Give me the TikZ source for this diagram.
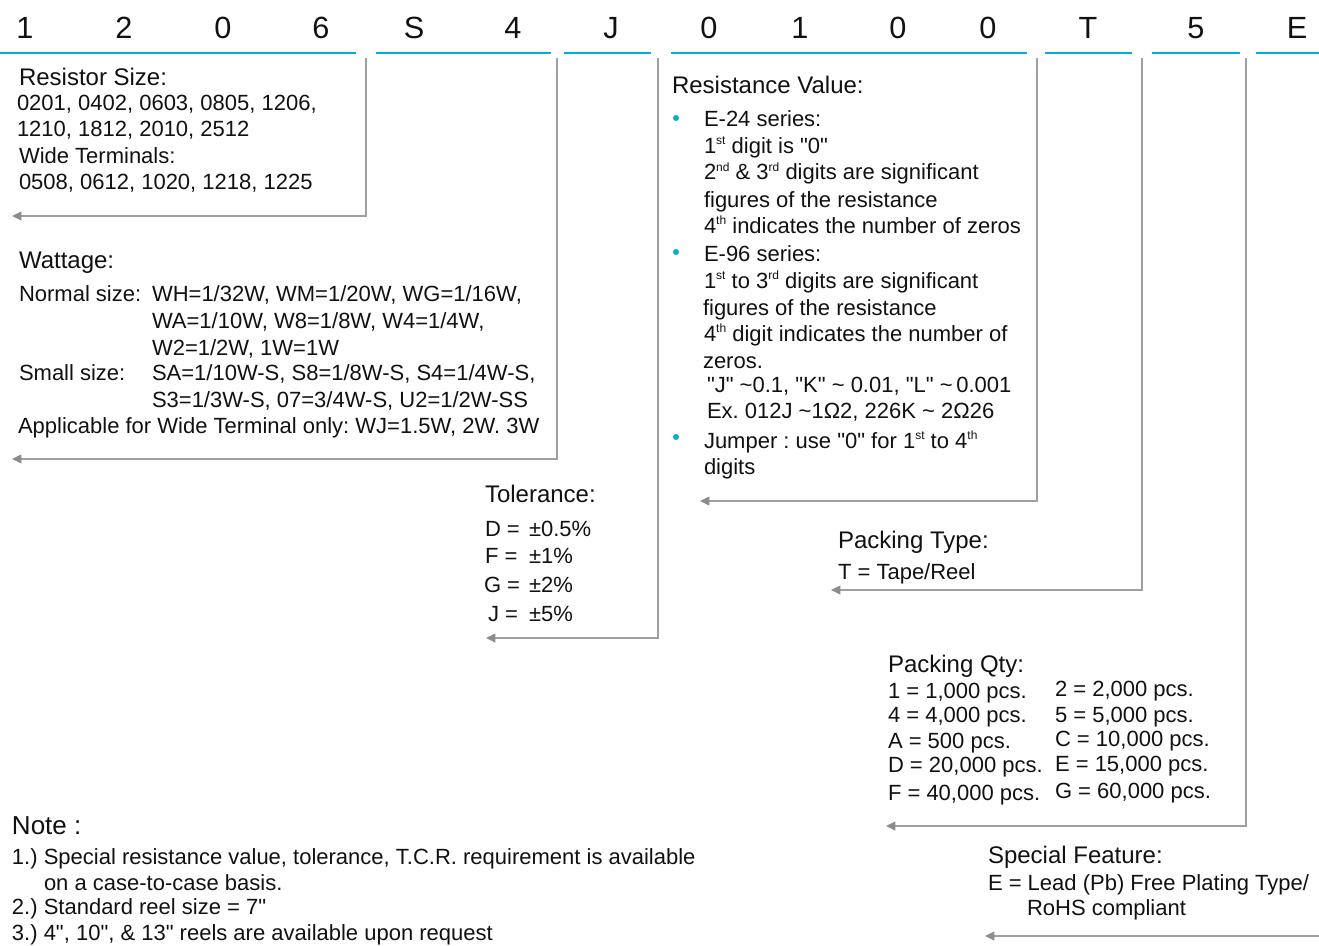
\documentclass[tikz,border=0pt]{standalone}
\usepackage{fontspec}
\setmainfont{Liberation Sans}[Ligatures=TeXOff]
\usetikzlibrary{arrows.meta}
\definecolor{segblue}{HTML}{00AED6}
\definecolor{linegray}{HTML}{A0A0A0}
\definecolor{tipgray}{HTML}{8C8C8C}
\definecolor{txt}{HTML}{111111}
\newcommand{\tld}{{\char"7E}}
\newcommand{\sups}[1]{\raisebox{6.5pt}{\fontsize{9}{9}\selectfont #1}}
\frenchspacing
\begin{document}
\begin{tikzpicture}[x=0.75pt,y=-0.75pt,
  every node/.style={inner sep=0pt, outer sep=0pt, text=txt, anchor=base west},
  digit/.style={font=\fontsize{23}{23}\selectfont, anchor=base},
  body/.style={font=\fontsize{16.5}{19.5}\selectfont},
  ttl/.style={font=\fontsize{18}{21}\selectfont},
  notettl/.style={font=\fontsize{19.5}{23}\selectfont},
  seg/.style={draw=segblue, line width=2pt},
  conn/.style={draw=linegray, line width=1.1pt, -{Triangle[length=7pt,width=6.5pt,color=tipgray]}},
  bul/.style={circle, fill=segblue, minimum size=4.5pt, anchor=center}
]
\useasboundingbox (0,0) rectangle (1319,945);

% ---- code digits ----
\node[digit] (d1) at (25,39) {1};
\node[digit] (d2) at (124,39) {2};
\node[digit] (d3) at (223,39) {0};
\node[digit] (d4) at (321,39) {6};
\node[digit] (d5) at (414,39) {S};
\node[digit] (d6) at (513,39) {4};
\node[digit] (d7) at (611,39) {J};
\node[digit] (d8) at (709,39) {0};
\node[digit] (d9) at (800,39) {1};
\node[digit] (d10) at (898,39) {0};
\node[digit] (d11) at (988,39) {0};
\node[digit] (d12) at (1088,39) {T};
\node[digit] (d13) at (1196,39) {5};
\node[digit] (d14) at (1297,39) {E};

% ---- blue underlines ----
\coordinate (s1a) at (0,53);    \coordinate (s1b) at (356,53);
\coordinate (s2a) at (376,53);  \coordinate (s2b) at (551,53);
\coordinate (s3a) at (564,53);  \coordinate (s3b) at (651,53);
\coordinate (s4a) at (671,53);  \coordinate (s4b) at (1027,53);
\coordinate (s5a) at (1045,53); \coordinate (s5b) at (1132,53);
\coordinate (s6a) at (1152,53); \coordinate (s6b) at (1240,53);
\coordinate (s7a) at (1256,53); \coordinate (s7b) at (1319,53);
\draw[seg] (s1a) -- (s1b);
\draw[seg] (s2a) -- (s2b);
\draw[seg] (s3a) -- (s3b);
\draw[seg] (s4a) -- (s4b);
\draw[seg] (s5a) -- (s5b);
\draw[seg] (s6a) -- (s6b);
\draw[seg] (s7a) -- (s7b);

% ---- connectors ----
\coordinate (c1t) at (366,58);  \coordinate (c1e) at (12,216);
\coordinate (c2t) at (557,58);  \coordinate (c2e) at (12,459);
\coordinate (c3t) at (658,58);  \coordinate (c3e) at (486,638);
\coordinate (c4t) at (1037,58); \coordinate (c4e) at (700,501);
\coordinate (c5t) at (1142,58); \coordinate (c5e) at (831,590);
\coordinate (c6t) at (1246,58); \coordinate (c6e) at (886,826);
\coordinate (c7t) at (1319,936); \coordinate (c7e) at (985,936);
\draw[conn] (c1t) |- (c1e);
\draw[conn] (c2t) |- (c2e);
\draw[conn] (c3t) |- (c3e);
\draw[conn] (c4t) |- (c4e);
\draw[conn] (c5t) |- (c5e);
\draw[conn] (c6t) |- (c6e);
\draw[conn] (c7t) -- (c7e);

% ---- Resistor size ----
\node[ttl]  (rs0) at (19,86)  {Resistor Size:};
\node[body] (rs1) at (17,111) {0201, 0402, 0603, 0805, 1206,};
\node[body] (rs2) at (17,137) {1210, 1812, 2010, 2512};
\node[body] (rs3) at (19,163) {Wide Terminals:};
\node[body] (rs4) at (19,189) {0508, 0612, 1020, 1218, 1225};

% ---- Wattage ----
\node[ttl]  (w0) at (19,268) {Wattage:};
\node[body] (w1) at (19,301) {Normal size:};
\node[body] (w1v) at (152,301) {WH=1/32W, WM=1/20W, WG=1/16W,};
\node[body] (w2v) at (152,328) {WA=1/10W, W8=1/8W, W4=1/4W,};
\node[body] (w3v) at (152,355) {W2=1/2W, 1W=1W};
\node[body] (w4) at (19,380) {Small size:};
\node[body] (w4v) at (152,380) {SA=1/10W-S, S8=1/8W-S, S4=1/4W-S,};
\node[body] (w5v) at (152,407) {S3=1/3W-S, 07=3/4W-S, U2=1/2W-SS};
\node[body] (w6) at (18,433) {Applicable for Wide Terminal only: WJ=1.5W, 2W. 3W};

% ---- Tolerance ----
\node[ttl]  (t0) at (485,502) {Tolerance:};
\node[body] (t1) at (485,536) {D =};
\node[body] (t1v) at (529,536) {±0.5\%};
\node[body] (t2) at (485,563) {F =};
\node[body] (t2v) at (529,563) {±1\%};
\node[body] (t3) at (484,592) {G =};
\node[body] (t3v) at (529,592) {±2\%};
\node[body] (t4) at (488,621) {J =};
\node[body] (t4v) at (529,621) {±5\%};

% ---- Resistance value ----
\node[ttl]  (r0) at (672,94) {Resistance Value:};
\node[bul] (b1) at (676,118) {};
\node[bul] (b2) at (676,252) {};
\node[bul] (b3) at (676,437) {};
\node[body] (r1) at (704,127) {E-24 series:};
\node[body] (r2) at (704,153) {1\sups{st} digit is "0"};
\node[body] (r3) at (704,180) {2\sups{nd} \& 3\sups{rd} digits are significant};
\node[body] (r4) at (704,207) {figures of the resistance};
\node[body] (r5) at (704,233) {4\sups{th} indicates the number of zeros};
\node[body] (r6) at (704,261) {E-96 series:};
\node[body] (r7) at (704,288) {1\sups{st} to 3\sups{rd} digits are significant};
\node[body] (r8) at (703,315) {figures of the resistance};
\node[body] (r9) at (704,341) {4\sups{th} digit indicates the number of};
\node[body] (r10) at (703,368) {zeros.};
\node[body] (r11) at (707,392) {"J" \tld0.1, "K" \tld\ 0.01, "L" \tld\,0.001};
\node[body] (r12) at (707,418) {Ex. 012J \tld1Ω2, 226K \tld\ 2Ω26};
\node[body] (r13) at (704,448) {Jumper : use "0" for 1\sups{st} to 4\sups{th}};
\node[body] (r14) at (704,474) {digits};

% ---- Packing type ----
\node[ttl]  (p0) at (838,548) {Packing Type:};
\node[body] (p1) at (838,579) {T = Tape/Reel};

% ---- Packing qty ----
\node[ttl]  (q0) at (888,672) {Packing Qty:};
\node[body] (q1) at (888,698) {1 = 1,000 pcs.};
\node[body] (q2) at (888,722) {4 = 4,000 pcs.};
\node[body] (q3) at (888,748) {A = 500 pcs.};
\node[body] (q4) at (888,772) {D = 20,000 pcs.};
\node[body] (q5) at (888,800) {F = 40,000 pcs.};
\node[body] (q6) at (1055,696) {2 = 2,000 pcs.};
\node[body] (q7) at (1055,722) {5 = 5,000 pcs.};
\node[body] (q8) at (1055,746) {C = 10,000 pcs.};
\node[body] (q9) at (1055,771) {E = 15,000 pcs.};
\node[body] (q10) at (1055,798) {G = 60,000 pcs.};

% ---- Special feature ----
\node[ttl]  (f0) at (988,863) {Special Feature:};
\node[body] (f1) at (988,890) {E = Lead (Pb) Free Plating Type/};
\node[body] (f2) at (1027,915) {RoHS compliant};

% ---- Notes ----
\node[notettl] (n0) at (12,834) {Note :};
\node[body] (n1) at (12,864) {1.) Special resistance value, tolerance, T.C.R. requirement is available};
\node[body] (n2) at (44,890) {on a case-to-case basis.};
\node[body] (n3) at (12,914) {2.) Standard reel size = 7"};
\node[body] (n4) at (12,940) {3.) 4", 10", \& 13" reels are available upon request};
\end{tikzpicture}
\end{document}
